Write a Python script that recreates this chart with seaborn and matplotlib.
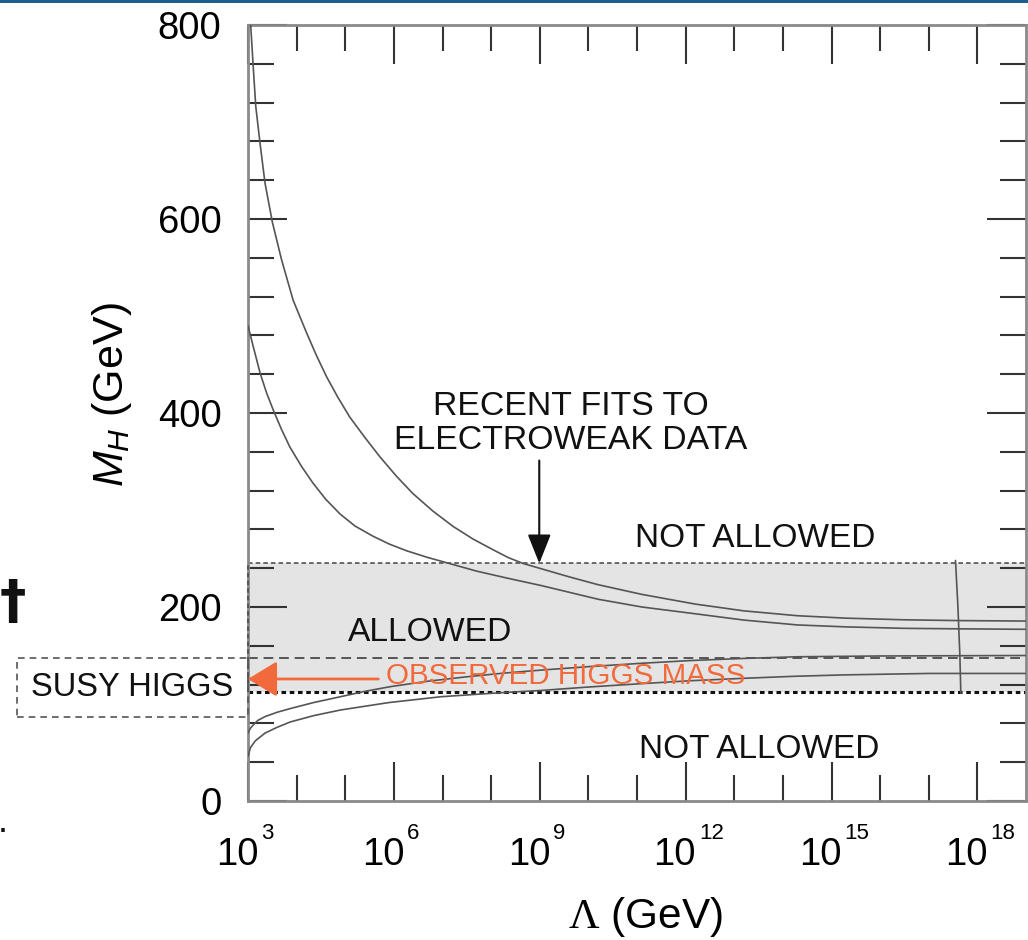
import numpy as np
import pandas as pd
import matplotlib
matplotlib.use("Agg")
import matplotlib.pyplot as plt
import seaborn as sns
from matplotlib import font_manager
from matplotlib.patches import Rectangle
from matplotlib.ticker import FixedLocator, NullFormatter, MultipleLocator
import matplotlib.transforms as mtransforms

# ---------------- data (log10 Lambda in GeV, M_H in GeV) ----------------
upper_a_logL = [3.055, 3.11, 3.16, 3.25, 3.35, 3.50, 3.69, 3.93, 4.21, 4.41, 4.62, 4.85, 5.09, 5.4,
                5.71, 6.05, 6.39, 6.8, 7.22, 7.63, 8.04, 8.35, 8.65, 9.61, 10.2, 11.1, 12.2, 13.2,
                14.3, 15.3, 16.5, 17.6, 19.0]
upper_a_mh = [800, 755, 716, 677, 637, 597, 558, 516, 482, 459, 437, 416, 396, 375,
              355, 335, 317, 299, 283, 270, 259, 251, 245, 231, 223, 213, 203, 196,
              191, 188.5, 186.8, 186, 185.5]

upper_b_logL = [3.0, 3.1, 3.25, 3.38, 3.52, 3.69, 3.86, 4.1, 4.34, 4.6, 4.89, 5.2, 5.57, 5.9,
                6.26, 6.7, 7.13, 7.7, 8.31, 9.04, 10.2, 11.1, 12.2, 13.2, 14.3, 15.3, 16.5, 17.6, 19.0]
upper_b_mh = [490, 470, 441, 421, 403, 383, 365, 345, 327.5, 311, 296, 283.5, 273, 265,
              258, 251, 245, 237, 230, 222, 208, 200, 193, 186.5, 181.5, 179.5, 178, 177.5, 177]

lower_c_logL = [3.0, 3.05, 3.1, 3.2, 3.35, 3.6, 3.87, 4.35, 4.9, 5.4, 5.94, 6.7, 7.49, 8.25,
                9.04, 10.0, 11.1, 12.1, 13.2, 14.3, 16.0, 19.0]
lower_c_mh = [70, 75, 78, 83, 87, 91.5, 95.3, 101.5, 107.5, 113, 118, 123.5, 128, 131.8,
              135, 138.5, 142, 144.8, 147, 148.7, 149.5, 150]

lower_d_logL = [3.0, 3.05, 3.15, 3.35, 3.6, 3.87, 4.35, 4.9, 5.9, 6.97, 8.0, 9.04, 10.0, 11.1,
                12.1, 13.2, 14.2, 15.25, 17.0, 19.0]
lower_d_mh = [46, 55, 62, 70, 76, 81.5, 88, 93.8, 101.5, 107.5, 111, 114, 117.5, 121,
              124, 126.5, 128.5, 130, 131.5, 131.5]

planck_logL = [17.55, 17.60, 17.64, 17.66]
planck_mh = [248, 200, 150, 111]

band_low = 112.0       # bottom of shaded "allowed" band
band_high = 245.0      # top of shaded band
susy_line = 147.5      # dashed line (SUSY Higgs upper bound)
susy_box_low = 86.6
observed_mass = 125.8

x_tick_exponents = [3, 6, 9, 12, 15, 18]
y_ticks = [0, 200, 400, 600, 800]

# ---------------- style ----------------
sns.set_theme(style="ticks")
avail = {f.name for f in font_manager.fontManager.ttflist}
sans = "Liberation Sans" if "Liberation Sans" in avail else "DejaVu Sans"
plt.rcParams["font.family"] = [sans, "DejaVu Sans"]
plt.rcParams["mathtext.fontset"] = "custom"
plt.rcParams["mathtext.rm"] = "Liberation Serif"
plt.rcParams["mathtext.it"] = "Liberation Sans:italic"
plt.rcParams["mathtext.sf"] = "Liberation Sans"

W, H = 1028, 940
fig = plt.figure(figsize=(W / 100, H / 100), dpi=100)
ax = fig.add_axes([248 / W, 1 - 801 / H, (1026 - 248) / W, (801 - 25) / H])
ax.set_xscale("log")
ax.set_xlim(1e3, 1e19)
ax.set_ylim(0, 800)

line_col = "#555555"
fill_col = "#e4e4e4"

# shaded band
ax.axhspan(band_low, band_high, color=fill_col, zorder=0, lw=0)
ax.axhline(band_high, color="#444444", lw=1.1, ls=(0, (3, 2)), zorder=2)
ax.axhline(susy_line, color="#555555", lw=1.4, ls=(0, (5, 3)), zorder=2)
ax.axhline(band_low, color="#111111", lw=2.2, ls=(0, (1.5, 1.2)), zorder=2)
ax.plot([1e3, 1e3], [band_low, band_high], color="#444444", lw=1.1, ls=(0, (3, 2)), zorder=3, clip_on=False)

curves = [
    (upper_a_logL, upper_a_mh),
    (upper_b_logL, upper_b_mh),
    (lower_c_logL, lower_c_mh),
    (lower_d_logL, lower_d_mh),
    (planck_logL, planck_mh),
]
for lx, my in curves:
    df = pd.DataFrame({"Lambda": 10.0 ** np.asarray(lx), "MH": my})
    sns.lineplot(data=df, x="Lambda", y="MH", ax=ax, sort=False, estimator=None,
                 color=line_col, lw=1.2, zorder=4)

# ticks
ax.xaxis.set_major_locator(FixedLocator([10.0 ** e for e in x_tick_exponents]))
ax.xaxis.set_minor_locator(FixedLocator([10.0 ** e for e in range(4, 19) if e not in x_tick_exponents]))
ax.xaxis.set_major_formatter(NullFormatter())
ax.xaxis.set_minor_formatter(NullFormatter())
ax.yaxis.set_major_locator(FixedLocator(y_ticks))
ax.yaxis.set_minor_locator(MultipleLocator(40))
ax.tick_params(which="both", direction="in", top=True, right=True, color="#333333", width=1.5)
ax.tick_params(which="major", length=28)
ax.tick_params(which="minor", length=19)
ax.tick_params(axis="y", which="major", labelsize=27.5, pad=19, labelcolor="#000000")
for s in ax.spines.values():
    s.set_color("#8a8a8a")
    s.set_linewidth(2)

# x tick labels: "10" with a small raised exponent
for e in x_tick_exponents:
    ax.annotate("10", xy=(10.0 ** e, 0), xycoords=("data", "axes fraction"),
                xytext=(7.5, -64 * 0.72), textcoords="offset points",
                ha="right", va="baseline", fontsize=27.5, color="#000000", annotation_clip=False)
    ax.annotate(str(e), xy=(10.0 ** e, 0), xycoords=("data", "axes fraction"),
                xytext=(9.5, -22 * 0.72), textcoords="offset points",
                ha="left", va="top", fontsize=16, color="#000000", annotation_clip=False)

ax.set_xlabel(r"$\Lambda$ (GeV)", fontsize=30.5)
ax.set_ylabel(r"$M_H$ (GeV)", fontsize=31)
ax.yaxis.set_label_coords((112 - 248) / (1026 - 248), (801 - 395) / (801 - 25))
ax.xaxis.set_label_coords((645 - 248) / (1026 - 248), -(917 - 801) / (801 - 25))
ax.xaxis.label.set_va("center")
ax.yaxis.label.set_va("center")
ax.xaxis.label.set_color("#000000")
ax.yaxis.label.set_color("#000000")

# annotations
txt_col = "#111111"
ax.text(10 ** 9.63, 389, "RECENT FITS TO\nELECTROWEAK DATA", ha="center", va="center",
        fontsize=24.3, color=txt_col, linespacing=1.15)
ax.annotate("", xy=(10 ** 8.99, band_high), xytext=(10 ** 8.99, 351),
            arrowprops=dict(arrowstyle="-|>,head_length=0.9,head_width=0.36", color="#111111",
                            lw=1.5, mutation_scale=20, shrinkA=0, shrinkB=0), zorder=5)
ax.text(10 ** 13.43, 271, "NOT ALLOWED", ha="center", va="center", fontsize=24, color=txt_col)
ax.text(10 ** 13.51, 53.6, "NOT ALLOWED", ha="center", va="center", fontsize=24, color=txt_col)
ax.text(10 ** 6.74, 174, "ALLOWED", ha="center", va="center", fontsize=24.2, color=txt_col)

orange = "#f26a3c"
ax.annotate("", xy=(1e3, observed_mass), xytext=(10 ** 5.68, observed_mass),
            arrowprops=dict(arrowstyle="-|>,head_length=0.9,head_width=0.55", color=orange,
                            lw=2, mutation_scale=20, shrinkA=0, shrinkB=0), zorder=6,
            annotation_clip=False)
ax.text(10 ** 5.83, 129, "OBSERVED HIGGS MASS", ha="left", va="center", fontsize=21.3,
        color=orange, zorder=6)

# SUSY HIGGS box (figure x, data y)
trans = mtransforms.blended_transform_factory(fig.transFigure, ax.transData)
box = Rectangle((17 / W, susy_box_low), (248 - 17) / W, susy_line - susy_box_low, transform=trans,
                fill=False, ec="#555555", lw=1.2, ls=(0, (4, 3)), clip_on=False)
fig.add_artist(box)
fig.text(132 / W, 116.5, "SUSY HIGGS", transform=trans, ha="center", va="center",
         fontsize=23.5, color=txt_col)

# slide artifacts
fig.add_artist(Rectangle((0, 1 - 3 / H), 1, 3 / H, transform=fig.transFigure, color="#1d5f8c", lw=0))
fig.text(13 / W, 1 - 603 / H, "\u2020", ha="center", va="center", fontsize=38, color="#111111",
         family=["DejaVu Sans"], fontweight="bold")
fig.text(3 / W, 1 - 822 / H, ".", ha="center", va="center", fontsize=26, color="#111111")

fig.savefig("out.png", dpi=100, facecolor="white")
